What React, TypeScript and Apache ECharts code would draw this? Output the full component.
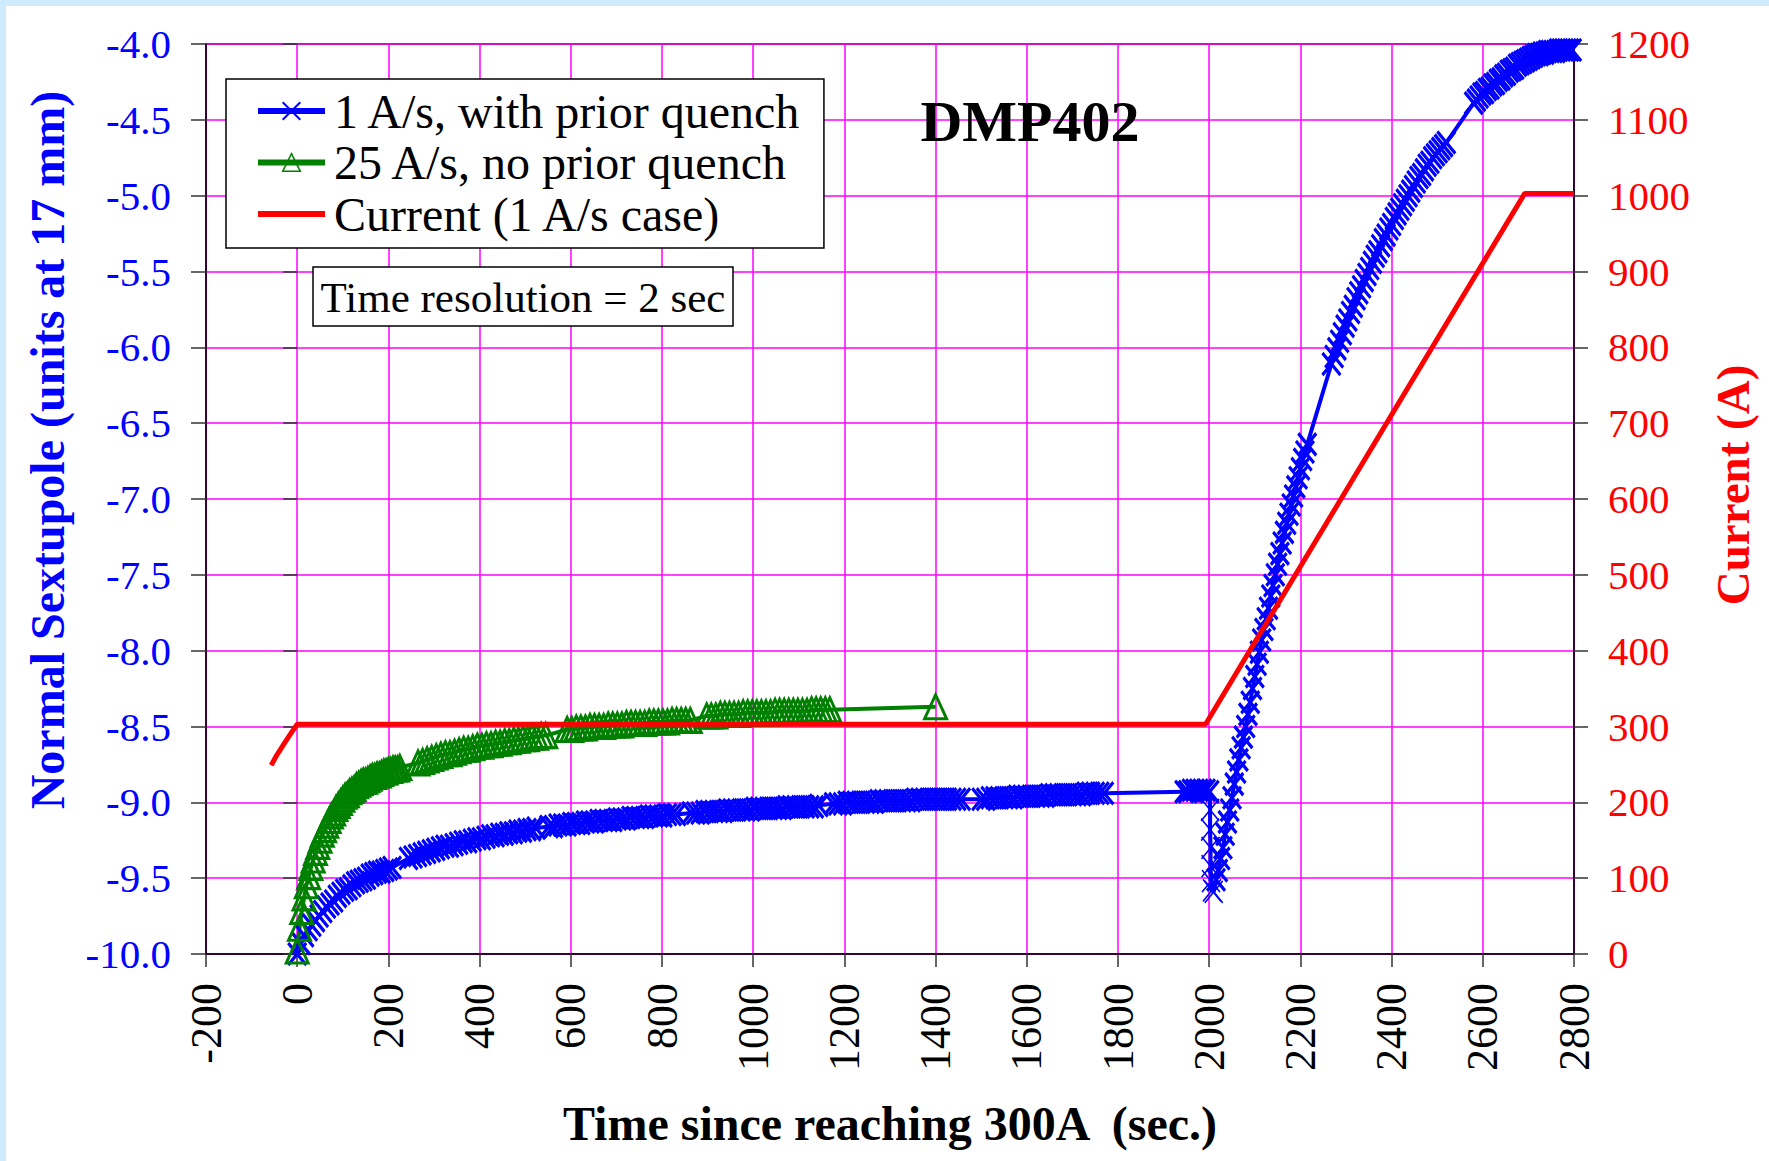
import React, { useEffect, useRef } from "react";
import * as echarts from "echarts";

const FONT = "'Liberation Serif', 'Times New Roman', serif";
const BLUE = "#0000ff";
const GREEN = "#008000";
const RED = "#ff0000";
const GRID = "#ff00ff";

const seriesNames = ["1 A/s, with prior quench", "25 A/s, no prior quench", "Current (1 A/s case)"];
const chartTitle = "DMP402";
const noteText = "Time resolution = 2 sec";
const xAxisTitle = "Time since reaching 300A  (sec.)";
const leftAxisTitle = "Normal Sextupole (units at 17 mm)";
const rightAxisTitle = "Current (A)";

// Each run: recorded block of samples, first time (s), sample spacing (s), sextupole values (units)
type Run = { start: number; step: number; values: number[] };

const blueFlatRuns: Run[] = [
  { start: 0, step: 8, values: [-10.0, -9.93, -9.88, -9.84, -9.81, -9.78, -9.75, -9.72, -9.69, -9.67, -9.65, -9.62, -9.6, -9.58, -9.57, -9.55, -9.53, -9.52, -9.51, -9.5, -9.48, -9.47, -9.46, -9.46, -9.45, -9.44, -9.43] },
  { start: 244, step: 10, values: [-9.37, -9.36, -9.35, -9.34, -9.33, -9.32, -9.31, -9.3, -9.29, -9.29, -9.28, -9.27, -9.26, -9.26, -9.25, -9.24, -9.24, -9.23, -9.22, -9.22, -9.21, -9.21, -9.2, -9.2, -9.19, -9.19, -9.18, -9.18, -9.17] },
  { start: 552, step: 10, values: [-9.16, -9.16, -9.15, -9.15, -9.15, -9.14, -9.14, -9.14, -9.13, -9.13, -9.13, -9.12, -9.12, -9.12, -9.12, -9.11, -9.11, -9.11, -9.1, -9.1, -9.1, -9.1, -9.09, -9.09, -9.09, -9.09, -9.08, -9.08, -9.08] },
  { start: 864, step: 10, values: [-9.07, -9.07, -9.07, -9.06, -9.06, -9.06, -9.06, -9.06, -9.05, -9.05, -9.05, -9.05, -9.05, -9.05, -9.04, -9.04, -9.04, -9.04, -9.04, -9.04, -9.04, -9.03, -9.03, -9.03, -9.03, -9.03, -9.03, -9.03, -9.02] },
  { start: 1176, step: 10, values: [-9.01, -9.01, -9.01, -9.0, -9.0, -9.0, -9.0, -9.0, -9.0, -9.0, -8.99, -8.99, -8.99, -8.99, -8.99, -8.99, -8.99, -8.99, -8.98, -8.98, -8.98, -8.98, -8.98, -8.98, -8.98, -8.98, -8.98, -8.98, -8.98] },
  { start: 1500, step: 10, values: [-8.98, -8.98, -8.97, -8.97, -8.97, -8.97, -8.97, -8.97, -8.96, -8.96, -8.96, -8.96, -8.96, -8.96, -8.96, -8.95, -8.95, -8.95, -8.95, -8.95, -8.95, -8.95, -8.95, -8.94, -8.94, -8.94, -8.94, -8.94] },
  { start: 1945, step: 8, values: [-8.93, -8.93, -8.92, -8.92, -8.92, -8.92, -8.92, -8.93] },
];

// fall of the 1 A/s curve as the ramp starts: [time (s), units]
const blueDrop: [number, number][] = [
  [2002, -9.05], [2002, -9.18], [2003, -9.3], [2003, -9.42], [2004, -9.52], [2006, -9.58], [2010, -9.59],
];

const blueRampRuns: Run[] = [
  { start: 2015, step: 5, values: [-9.51, -9.45, -9.37, -9.3, -9.21, -9.13, -9.05, -8.97, -8.88, -8.8, -8.72, -8.64, -8.57, -8.5, -8.42, -8.34, -8.25, -8.17, -8.09, -8.01, -7.93, -7.86, -7.79, -7.72, -7.64, -7.57, -7.5, -7.43, -7.36, -7.29, -7.22, -7.16, -7.1, -7.04, -6.98, -6.92, -6.86, -6.8, -6.74, -6.69, -6.64] },
  { start: 2268, step: 6, values: [-6.11, -6.06, -6.01, -5.96, -5.91, -5.86, -5.82, -5.77, -5.73, -5.68, -5.64, -5.6, -5.56, -5.52, -5.48, -5.44, -5.4, -5.37, -5.33, -5.29, -5.26, -5.22, -5.19, -5.15, -5.12, -5.09, -5.06, -5.03, -5.0, -4.97, -4.94, -4.91, -4.88, -4.86, -4.83, -4.8, -4.78, -4.75, -4.73, -4.71, -4.69, -4.67, -4.65] },
  { start: 2580, step: 6, values: [-4.39, -4.37, -4.35, -4.33, -4.32, -4.3, -4.29, -4.27, -4.26, -4.24, -4.23, -4.21, -4.2, -4.18, -4.17, -4.16, -4.14, -4.13, -4.12, -4.11, -4.1, -4.09, -4.08, -4.07, -4.07, -4.06, -4.06, -4.05, -4.05, -4.05, -4.05, -4.04, -4.04, -4.04, -4.04, -4.04, -4.04] },
];

const greenRuns: Run[] = [
  { start: 0, step: 5, values: [-9.98, -9.83, -9.72, -9.63, -9.55, -9.49, -9.43, -9.38, -9.33, -9.29, -9.25, -9.21, -9.18, -9.15, -9.12, -9.09, -9.07, -9.04, -9.02, -9.0, -8.98, -8.96, -8.95, -8.93, -8.92, -8.91, -8.89, -8.88, -8.87, -8.86, -8.86, -8.85, -8.84, -8.83, -8.83, -8.82, -8.82, -8.81, -8.8, -8.8, -8.79, -8.79, -8.78, -8.78, -8.78, -8.77] },
  { start: 265, step: 10, values: [-8.74, -8.73, -8.72, -8.71, -8.7, -8.69, -8.68, -8.68, -8.67, -8.66, -8.65, -8.65, -8.64, -8.63, -8.63, -8.62, -8.62, -8.61, -8.61, -8.6, -8.6, -8.59, -8.59, -8.58, -8.58, -8.57, -8.57, -8.56, -8.56] },
  { start: 592, step: 10, values: [-8.52, -8.52, -8.51, -8.51, -8.51, -8.5, -8.5, -8.5, -8.5, -8.49, -8.49, -8.49, -8.49, -8.48, -8.48, -8.48, -8.48, -8.48, -8.47, -8.47, -8.47, -8.47, -8.47, -8.46, -8.46, -8.46, -8.46, -8.46] },
  { start: 898, step: 10, values: [-8.43, -8.43, -8.43, -8.42, -8.42, -8.42, -8.42, -8.42, -8.41, -8.41, -8.41, -8.41, -8.41, -8.41, -8.41, -8.4, -8.4, -8.4, -8.4, -8.4, -8.4, -8.4, -8.4, -8.39, -8.39, -8.39, -8.39, -8.39] },
];
const greenLast: [number, number][] = [[1400, -8.37]];

// [time (s), current (A)]
const currentData: [number, number][] = [
  [-57, 249], [-45, 262], [-29, 277], [-15, 290], [0, 303], [1992, 303], [2692, 1003], [2800, 1003],
];

const toPairs = (r: Run): [number, number][] => r.values.map((v, i) => [r.start + i * r.step, v]);

// the sparse drop markers are drawn with a thin outline, as in the source plot
const thinBlue = { color: "rgba(0,0,0,0)", borderColor: BLUE, borderWidth: 1.6 };

const blueData: any[] = [
  ...blueFlatRuns.flatMap(toPairs),
  ...blueDrop.map((p) => ({ value: p, itemStyle: thinBlue })),
  ...blueRampRuns.flatMap(toPairs),
];
const greenData: any[] = [...greenRuns.flatMap(toPairs), ...greenLast];

const X_SYMBOL = "path://M0,0L10,10M10,0L0,10";

export default function App() {
  const ref = useRef<HTMLDivElement>(null);
  useEffect(() => {
    if (!ref.current) return;
    const chart = echarts.init(ref.current, undefined, { renderer: "svg" });
    const axisLine = { show: true, onZero: false, lineStyle: { color: "#000", width: 1.5 } };
    const plain = (v: number) => String(v);
    const option: any = {
      animation: false,
      backgroundColor: "#fff",
      grid: {
        left: 206, top: 44, width: 1368, height: 910,
        show: true, backgroundColor: "#fff", borderColor: "#000", borderWidth: 1.5,
      },
      xAxis: {
        type: "value", min: -200, max: 2800, interval: 200,
        axisLine,
        axisTick: { show: true, length: 13, lineStyle: { color: "#333", width: 1.5 } },
        axisLabel: { rotate: 90, color: "#000", fontFamily: FONT, fontSize: 44, margin: 29, formatter: plain },
        splitLine: { show: true, lineStyle: { color: GRID, width: 1.5 } },
      },
      yAxis: [
        {
          type: "value", position: "left", min: -10, max: -4, interval: 0.5,
          axisLine,
          axisTick: { show: true, length: 15, lineStyle: { color: "#333", width: 1.5 } },
          axisLabel: { color: BLUE, fontFamily: FONT, fontSize: 41, margin: 35, formatter: (v: number) => v.toFixed(1) },
          splitLine: { show: true, lineStyle: { color: GRID, width: 1.5 } },
        },
        {
          type: "value", position: "right", min: 0, max: 1200, interval: 100,
          axisLine,
          axisTick: { show: true, length: 14, lineStyle: { color: "#333", width: 1.5 } },
          axisLabel: { color: RED, fontFamily: FONT, fontSize: 41, margin: 34, formatter: plain },
          splitLine: { show: false },
        },
        {
          type: "value", position: "right", min: 0, max: 1200, interval: 100,
          axisLine: { show: false },
          axisTick: { show: true, inside: true, length: 14, lineStyle: { color: "#333", width: 1.5 } },
          axisLabel: { show: false },
          splitLine: { show: false },
        },
      ],
      legend: {
        orient: "vertical", left: 226, top: 79,
        padding: [8, 22, 10, 29], itemGap: 3.5, itemWidth: 67, itemHeight: 22,
        backgroundColor: "#fff", borderColor: "#000", borderWidth: 1.5,
        selectedMode: false,
        textStyle: { fontFamily: FONT, fontSize: 48, color: "#000", lineHeight: 48, padding: [0, 0, 0, 4] },
        data: [
          {
            name: seriesNames[0],
            itemStyle: { color: "rgba(0,0,0,0)", borderColor: BLUE, borderWidth: 2 },
            lineStyle: { color: BLUE, width: 6 },
          },
          {
            name: seriesNames[1],
            itemStyle: { color: "rgba(0,0,0,0)", borderColor: GREEN, borderWidth: 1.5 },
            lineStyle: { color: GREEN, width: 6 },
          },
          {
            name: seriesNames[2],
            icon: "path://M0,0H100V9H0Z",
            itemStyle: { color: RED, borderWidth: 0 },
          },
        ],
      },
      series: [
        {
          name: seriesNames[0], type: "line", xAxisIndex: 0, yAxisIndex: 0, data: blueData,
          symbol: X_SYMBOL, symbolSize: [18, 22], showSymbol: true, clip: false, silent: true,
          lineStyle: { color: BLUE, width: 4 },
          itemStyle: { color: "rgba(0,0,0,0)", borderColor: BLUE, borderWidth: 3.3 },
          z: 3,
        },
        {
          name: seriesNames[1], type: "line", xAxisIndex: 0, yAxisIndex: 0, data: greenData,
          symbol: "triangle", symbolSize: [22, 24], showSymbol: true, clip: false, silent: true,
          lineStyle: { color: GREEN, width: 4 },
          itemStyle: { color: "rgba(0,0,0,0)", borderColor: GREEN, borderWidth: 3 },
          z: 3,
        },
        {
          name: seriesNames[2], type: "line", xAxisIndex: 0, yAxisIndex: 1, data: currentData,
          symbol: "none", clip: false, silent: true,
          lineStyle: { color: RED, width: 5 },
          itemStyle: { color: RED },
          z: 4,
        },
      ],
      graphic: [
        { type: "rect", z: 100, shape: { x: 0, y: 0, width: 1769, height: 6 }, style: { fill: "#cdebfc" } },
        { type: "rect", z: 100, shape: { x: 0, y: 0, width: 6, height: 1161 }, style: { fill: "#cdebfc" } },
        {
          type: "rect", z: 10, shape: { x: 313, y: 267, width: 420, height: 59 },
          style: { fill: "#fff", stroke: "#000", lineWidth: 1.5 },
        },
        {
          type: "text", z: 11, x: 523, y: 297,
          style: { text: noteText, fontFamily: FONT, fontSize: 43, fill: "#000", align: "center", verticalAlign: "middle" },
        },
        {
          type: "text", z: 11, x: 1030, y: 121,
          style: { text: chartTitle, fontFamily: FONT, fontSize: 58, fontWeight: "bold", fill: "#000", align: "center", verticalAlign: "middle" },
        },
        {
          type: "text", z: 11, x: 47, y: 450, rotation: Math.PI / 2,
          style: { text: leftAxisTitle, fontFamily: FONT, fontSize: 48, fontWeight: "bold", fill: BLUE, align: "center", verticalAlign: "middle" },
        },
        {
          type: "text", z: 11, x: 1733, y: 485, rotation: Math.PI / 2,
          style: { text: rightAxisTitle, fontFamily: FONT, fontSize: 47, fontWeight: "bold", fill: RED, align: "center", verticalAlign: "middle" },
        },
        {
          type: "text", z: 11, x: 890, y: 1123,
          style: { text: xAxisTitle, fontFamily: FONT, fontSize: 48, fontWeight: "bold", fill: "#000", align: "center", verticalAlign: "middle" },
        },
      ],
    };
    chart.setOption(option);
    return () => chart.dispose();
  }, []);
  return <div ref={ref} style={{ position: "absolute", left: 0, top: 0, width: 1769, height: 1161, background: "#fff" }} />;
}
